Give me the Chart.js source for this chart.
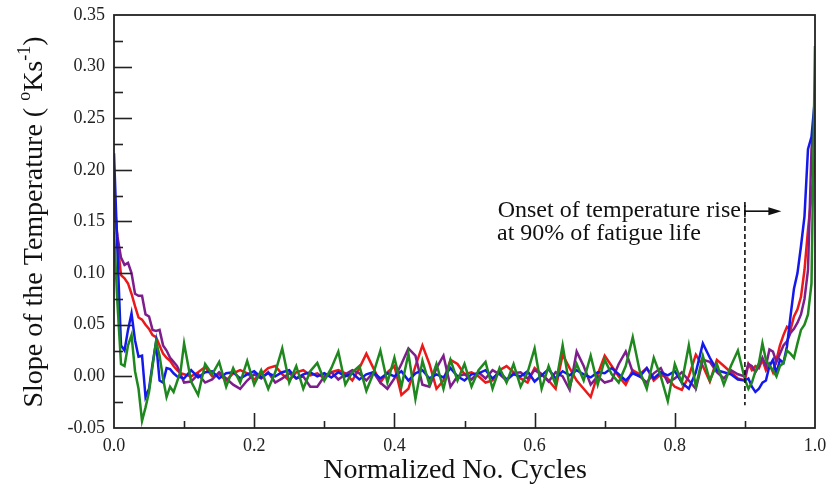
<!DOCTYPE html>
<html>
<head>
<meta charset="utf-8">
<script src="https://cdn.jsdelivr.net/npm/chart.js@4"></script>
<style>
html,body{margin:0;padding:0;background:#fff;}
#wrap{width:829px;height:495px;position:relative;}
</style>
</head>
<body>
<div id="wrap"><canvas id="c" width="829" height="495"></canvas></div>
<script>
// Normalized number of cycles (shared x positions)
const xs = [0,0.005,0.01,0.015,0.02,0.025,0.03,0.035,0.04,0.045,0.05,0.055,0.06,0.065,0.07,0.075,0.08,0.085,0.09,0.095,
0.10,0.11,0.12,0.13,0.14,0.15,0.16,0.17,0.18,0.19,0.20,0.21,0.22,0.23,0.24,0.25,0.26,0.27,0.28,0.29,
0.30,0.31,0.32,0.33,0.34,0.35,0.36,0.37,0.38,0.39,0.40,0.41,0.42,0.43,0.44,0.45,0.46,0.47,0.48,0.49,
0.50,0.51,0.52,0.53,0.54,0.55,0.56,0.57,0.58,0.59,0.60,0.61,0.62,0.63,0.64,0.65,0.66,0.67,0.68,0.69,
0.70,0.71,0.72,0.73,0.74,0.75,0.76,0.77,0.78,0.79,0.80,0.81,0.82,0.83,0.84,0.85,0.86,0.87,0.88,0.89,
0.90,0.905,0.91,0.915,0.92,0.925,0.93,0.935,0.94,0.945,0.95,0.955,0.96,0.965,0.97,0.975,0.98,0.985,0.99,0.995,1.0];

const greenSlope = [0.14,0.07,0.012,0.01,0.03,0.04,0.005,-0.012,-0.043,-0.03,-0.015,0.01,0.034,0.02,-0.002,-0.02,-0.01,-0.015,-0.005,0.005,
0.032,-0.005,-0.018,0.012,0.002,0.014,-0.01,0.008,-0.006,0.015,-0.008,0.006,-0.012,0.004,0.027,-0.006,0.01,-0.012,0.005,0.013,
-0.004,0.008,0.024,-0.008,0.004,0.01,-0.014,0.003,0.025,-0.006,0.018,-0.01,0.022,-0.022,0.015,-0.008,0.012,-0.012,0.016,-0.004,
0.012,-0.01,0.006,0.014,-0.012,0.008,-0.006,0.012,-0.01,0.004,0.027,-0.012,0.01,-0.008,0.03,-0.01,0.012,-0.004,0.02,-0.008,
0.016,0.002,-0.006,0.01,0.038,0.005,-0.012,0.018,0.0,-0.024,0.012,-0.006,0.03,-0.01,0.02,-0.004,0.012,-0.008,0.01,0.025,
-0.003,-0.012,-0.006,0.005,0.013,0.032,0.016,0.01,0.006,0.0,0.01,0.013,0.025,0.022,0.018,0.032,0.045,0.05,0.06,0.09,0.32];

const blueSlope = [0.216,0.12,0.03,0.025,0.045,0.061,0.035,0.019,0.02,-0.02,-0.012,0.012,0.033,-0.004,-0.006,0.008,0.007,0.003,0.0,-0.001,
-0.002,0.006,-0.001,0.004,0.005,-0.002,0.003,0.004,-0.002,0.002,0.005,-0.001,0.003,0.0,0.004,0.006,-0.002,0.002,0.004,0.0,
0.003,-0.001,0.004,0.0,0.003,-0.003,0.002,0.004,-0.002,0.003,0.0,0.005,-0.004,0.003,0.006,-0.002,0.002,-0.001,0.008,0.0,
-0.004,0.002,0.003,0.006,-0.002,0.004,-0.003,0.002,0.0,0.005,-0.005,0.001,0.007,-0.002,0.005,0.001,0.006,0.002,-0.001,0.004,
0.003,0.008,0.002,-0.004,0.003,0.0,0.008,-0.002,0.004,0.001,0.005,-0.006,-0.012,0.004,0.032,0.018,0.006,0.004,0.002,-0.003,
-0.004,-0.002,-0.01,-0.015,-0.012,-0.006,-0.004,0.01,0.016,0.003,0.016,0.013,0.029,0.058,0.085,0.1,0.126,0.155,0.22,0.232,0.27];

const redSlope = [0.18,0.13,0.098,0.095,0.09,0.08,0.068,0.057,0.055,0.05,0.046,0.04,0.038,0.03,0.022,0.018,0.015,0.01,0.006,0.003,
0.002,0.0,0.004,0.009,0.0,0.002,-0.004,0.003,0.006,0.003,-0.003,0.002,0.008,0.01,0.002,-0.004,0.004,0.006,0.001,0.003,
-0.002,0.004,0.006,0.003,-0.004,0.008,0.022,0.008,-0.006,0.004,0.01,-0.018,-0.012,0.01,0.03,0.012,-0.012,-0.004,0.016,0.012,
0.002,0.004,0.0,-0.006,-0.004,0.006,0.01,0.004,-0.002,-0.006,0.008,0.002,-0.004,-0.012,0.021,0.008,-0.004,-0.012,-0.02,0.002,
0.02,0.01,0.0,-0.008,0.006,0.002,0.008,-0.004,0.002,-0.002,-0.01,-0.013,0.0,0.021,0.01,-0.005,0.016,0.01,0.004,-0.002,
-0.004,0.012,0.006,0.01,0.008,0.016,0.006,0.012,0.004,0.016,0.03,0.04,0.048,0.045,0.058,0.065,0.077,0.103,0.142,0.175,0.21];

const purpleSlope = [0.17,0.135,0.115,0.108,0.11,0.1,0.08,0.078,0.078,0.06,0.058,0.045,0.044,0.045,0.03,0.025,0.018,0.014,0.01,0.002,
-0.006,-0.005,0.002,-0.006,-0.003,0.004,-0.002,-0.008,-0.012,-0.004,0.002,-0.002,0.004,-0.006,-0.002,0.003,-0.002,0.0,-0.01,-0.01,
0.0,0.004,-0.003,0.002,0.006,0.003,-0.004,0.004,-0.006,-0.012,-0.002,0.012,0.027,0.02,-0.008,-0.01,0.008,0.02,-0.01,0.0,
0.002,-0.003,0.004,-0.002,0.006,0.002,-0.004,0.003,0.004,-0.002,0.006,0.002,-0.005,0.004,0.0,-0.013,0.024,0.01,-0.008,0.0,
-0.006,-0.004,0.012,0.024,0.004,0.0,-0.006,0.003,0.008,-0.006,-0.002,0.004,-0.004,-0.012,0.016,0.014,0.004,-0.002,0.006,0.002,
0.0,0.012,0.01,0.004,0.01,0.018,0.01,0.026,0.024,0.014,0.022,0.03,0.034,0.042,0.046,0.052,0.06,0.075,0.103,0.22,0.26];

// Tick values / labels
const yTickValues = [-0.05,0.0,0.05,0.10,0.15,0.20,0.25,0.30,0.35];
const yMinorValues = [-0.025,0.025,0.075,0.125,0.175,0.225,0.275,0.325];
const xTickValues = [0.0,0.2,0.4,0.6,0.8,1.0];
const xMinorValues = [0.1,0.3,0.5,0.7,0.9];

const xTitle = "Normalized No. Cycles";
const yTitleParts = ["Slope of the Temperature ( ", "o", "Ks", "-1", ")"];
const noteLine1 = "Onset of temperature rise";
const noteLine2 = "at 90% of fatigue life";
const onsetX = 0.9;

const FONT = "'Liberation Serif', 'Times New Roman', serif";

function pts(ys){ return xs.map((x,i)=>({x:x,y:ys[i]})); }

const overlay = {
  id:'overlay',
  afterDatasetsDraw(chart){
    const ctx = chart.ctx, a = chart.chartArea;
    const xS = chart.scales.x, yS = chart.scales.y;
    ctx.save();
    ctx.strokeStyle = '#222';
    ctx.lineWidth = 1.6;
    // y ticks (inside)
    yTickValues.forEach(v=>{
      if (v<=-0.05 || v>=0.35) return;
      const p = Math.round(yS.getPixelForValue(v))+0.5;
      ctx.beginPath(); ctx.moveTo(a.left,p); ctx.lineTo(a.left+18,p); ctx.stroke();
    });
    yMinorValues.forEach(v=>{
      const p = Math.round(yS.getPixelForValue(v))+0.5;
      ctx.beginPath(); ctx.moveTo(a.left,p); ctx.lineTo(a.left+9,p); ctx.stroke();
    });
    xTickValues.forEach(v=>{
      if (v<=0 || v>=1) return;
      const p = Math.round(xS.getPixelForValue(v))+0.5;
      ctx.beginPath(); ctx.moveTo(p,a.bottom); ctx.lineTo(p,a.bottom-15); ctx.stroke();
    });
    xMinorValues.forEach(v=>{
      const p = Math.round(xS.getPixelForValue(v))+0.5;
      ctx.beginPath(); ctx.moveTo(p,a.bottom); ctx.lineTo(p,a.bottom-7); ctx.stroke();
    });
    // frame
    ctx.lineWidth = 1.8;
    ctx.strokeRect(a.left, a.top, a.right-a.left, a.bottom-a.top);

    // dashed onset line
    const ox = xS.getPixelForValue(onsetX);
    ctx.strokeStyle = '#111';
    ctx.lineWidth = 1.6;
    ctx.setLineDash([5,3]);
    ctx.beginPath();
    ctx.moveTo(ox, yS.getPixelForValue(0.169));
    ctx.lineTo(ox, yS.getPixelForValue(-0.028));
    ctx.stroke();
    ctx.setLineDash([]);
    // arrow
    const ay = yS.getPixelForValue(0.160);
    const ax2 = xS.getPixelForValue(0.952);
    ctx.beginPath(); ctx.moveTo(ox, ay-6); ctx.lineTo(ox, ay+6); ctx.stroke();
    ctx.beginPath(); ctx.moveTo(ox, ay); ctx.lineTo(ax2-10, ay); ctx.stroke();
    ctx.fillStyle = '#111';
    ctx.beginPath(); ctx.moveTo(ax2, ay); ctx.lineTo(ax2-13, ay-4); ctx.lineTo(ax2-13, ay+4); ctx.closePath(); ctx.fill();

    // note text
    ctx.fillStyle = '#111';
    ctx.font = "24px " + FONT;
    ctx.textBaseline = 'alphabetic';
    ctx.textAlign = 'right';
    ctx.fillText(noteLine1, ox-4, 217);
    ctx.textAlign = 'left';
    ctx.fillText(noteLine2, 497, 240);

    // x title
    ctx.font = "28px " + FONT;
    ctx.textAlign = 'center';
    ctx.fillText(xTitle, 455, 478);

    // y title with superscripts
    ctx.translate(42, 222);
    ctx.rotate(-Math.PI/2);
    const big = "28px " + FONT, small = "18px " + FONT;
    const parts = [
      {t:yTitleParts[0], f:big, dy:0},
      {t:yTitleParts[1], f:small, dy:-12},
      {t:yTitleParts[2], f:big, dy:0},
      {t:yTitleParts[3], f:small, dy:-12},
      {t:yTitleParts[4], f:big, dy:0}
    ];
    let total = 0;
    parts.forEach(p=>{ ctx.font = p.f; p.w = ctx.measureText(p.t).width; total += p.w; });
    let cx = -total/2;
    ctx.textAlign = 'left';
    parts.forEach(p=>{ ctx.font = p.f; ctx.fillText(p.t, cx, p.dy); cx += p.w; });
    ctx.restore();
  }
};

const lineStyle = {pointRadius:0, borderWidth:2.5, tension:0, fill:false};

new Chart(document.getElementById('c'), {
  type:'line',
  data:{
    datasets:[
      Object.assign({label:'Green', data:pts(greenSlope), borderColor:'rgb(30,135,30)'}, lineStyle),
      Object.assign({label:'Blue', data:pts(blueSlope), borderColor:'rgb(20,25,235)'}, lineStyle),
      Object.assign({label:'Purple', data:pts(purpleSlope), borderColor:'rgb(125,30,140)'}, lineStyle),
      Object.assign({label:'Red', data:pts(redSlope), borderColor:'rgb(235,25,25)'}, lineStyle)
    ]
  },
  options:{
    responsive:false,
    animation:false,
    layout:{padding:{top:15,right:14,left:0,bottom:0}},
    plugins:{legend:{display:false}, tooltip:{enabled:false}},
    scales:{
      x:{
        type:'linear', min:0, max:1,
        grid:{display:false, drawTicks:false},
        border:{display:false},
        afterBuildTicks:s=>{ s.ticks = xTickValues.map(v=>({value:v})); },
        afterFit:s=>{ s.height = 67; s.paddingLeft = 0; s.paddingRight = 0; },
        ticks:{padding:7, color:'#222', font:{family:FONT, size:18}, callback:v=>v.toFixed(1), maxRotation:0, autoSkip:false}
      },
      y:{
        type:'linear', min:-0.05, max:0.35,
        grid:{display:false, drawTicks:false},
        border:{display:false},
        afterBuildTicks:s=>{ s.ticks = yTickValues.map(v=>({value:v})); },
        afterFit:s=>{ s.width = 114; s.paddingTop = 0; s.paddingBottom = 0; },
        ticks:{padding:9, color:'#222', font:{family:FONT, size:18}, callback:v=>v.toFixed(2), autoSkip:false}
      }
    }
  },
  plugins:[overlay]
});
</script>
</body>
</html>
